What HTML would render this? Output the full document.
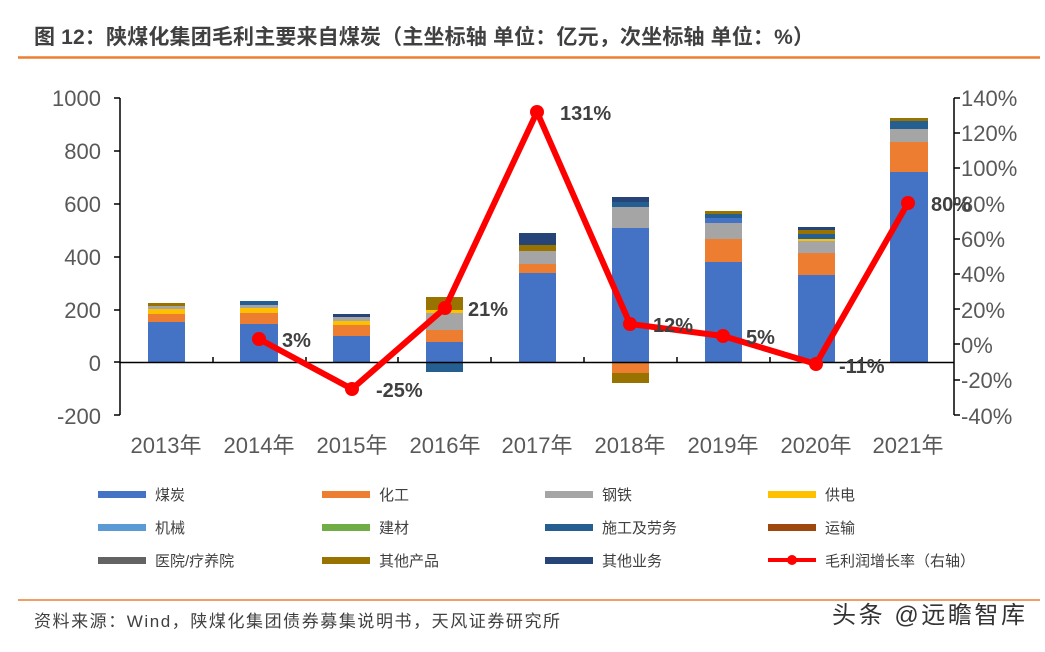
<!DOCTYPE html>
<html><head><meta charset="utf-8"><style>
body{margin:0;background:#fff;width:1045px;height:647px;overflow:hidden}
svg{font-family:"Liberation Sans","Noto Sans CJK SC",sans-serif}
</style></head><body>
<svg width="1045" height="647" viewBox="0 0 1045 647">
<text x="34" y="44" font-size="21" font-weight="bold" fill="#404040" textLength="780">图 12：陕煤化集团毛利主要来自煤炭（主坐标轴 单位：亿元，次坐标轴 单位：%）</text>
<line x1="18" y1="57.5" x2="1040" y2="57.5" stroke="#ED7D31" stroke-width="2.5"/>
<g font-size="22" fill="#595959" text-anchor="end">
<text x="101" y="106">1000</text><text x="101" y="159">800</text><text x="101" y="212">600</text><text x="101" y="265">400</text><text x="101" y="318">200</text><text x="101" y="371">0</text><text x="101" y="424">-200</text>
</g>
<g font-size="22" fill="#595959">
<text x="961" y="106">140%</text><text x="961" y="141">120%</text><text x="961" y="176">100%</text><text x="961" y="212">80%</text><text x="961" y="247">60%</text><text x="961" y="282">40%</text><text x="961" y="318">20%</text><text x="961" y="353">0%</text><text x="961" y="388">-20%</text><text x="961" y="424">-40%</text>
</g>
<g stroke="#000" stroke-width="1.5">
<line x1="120" y1="98" x2="120" y2="415"/>
<line x1="114" y1="98" x2="120" y2="98"/><line x1="114" y1="151" x2="120" y2="151"/><line x1="114" y1="204" x2="120" y2="204"/><line x1="114" y1="257" x2="120" y2="257"/><line x1="114" y1="310" x2="120" y2="310"/><line x1="114" y1="362" x2="120" y2="362"/><line x1="114" y1="415" x2="120" y2="415"/>
<line x1="954" y1="98" x2="954" y2="415"/>
<line x1="954" y1="98" x2="960" y2="98"/><line x1="954" y1="133" x2="960" y2="133"/><line x1="954" y1="168" x2="960" y2="168"/><line x1="954" y1="204" x2="960" y2="204"/><line x1="954" y1="239" x2="960" y2="239"/><line x1="954" y1="274" x2="960" y2="274"/><line x1="954" y1="309" x2="960" y2="309"/><line x1="954" y1="344" x2="960" y2="344"/><line x1="954" y1="380" x2="960" y2="380"/><line x1="954" y1="415" x2="960" y2="415"/>
</g>
<g>
<rect x="148" y="322" width="37" height="40" fill="#4472C4"/><rect x="148" y="314" width="37" height="8" fill="#ED7D31"/><rect x="148" y="309" width="37" height="5" fill="#FFC000"/><rect x="148" y="306" width="37" height="3" fill="#A5A5A5"/><rect x="148" y="303" width="37" height="3" fill="#997300"/>
<rect x="240" y="324" width="38" height="38" fill="#4472C4"/><rect x="240" y="313" width="38" height="11" fill="#ED7D31"/><rect x="240" y="308" width="38" height="5" fill="#FFC000"/><rect x="240" y="305" width="38" height="3" fill="#A5A5A5"/><rect x="240" y="301" width="38" height="4" fill="#255E91"/>
<rect x="333" y="336" width="37" height="26" fill="#4472C4"/><rect x="333" y="325" width="37" height="11" fill="#ED7D31"/><rect x="333" y="321" width="37" height="4" fill="#FFC000"/><rect x="333" y="317" width="37" height="4" fill="#A5A5A5"/><rect x="333" y="314" width="37" height="3" fill="#264478"/>
<rect x="426" y="342" width="37" height="20" fill="#4472C4"/><rect x="426" y="330" width="37" height="12" fill="#ED7D31"/><rect x="426" y="313" width="37" height="17" fill="#A5A5A5"/><rect x="426" y="310" width="37" height="3" fill="#FFC000"/><rect x="426" y="297" width="37" height="13" fill="#997300"/><rect x="426" y="362" width="37" height="10" fill="#255E91"/>
<rect x="519" y="273" width="37" height="89" fill="#4472C4"/><rect x="519" y="264" width="37" height="9" fill="#ED7D31"/><rect x="519" y="251" width="37" height="13" fill="#A5A5A5"/><rect x="519" y="245" width="37" height="6" fill="#997300"/><rect x="519" y="233" width="37" height="12" fill="#264478"/>
<rect x="612" y="228" width="37" height="134" fill="#4472C4"/><rect x="612" y="207" width="37" height="21" fill="#A5A5A5"/><rect x="612" y="202" width="37" height="5" fill="#255E91"/><rect x="612" y="197" width="37" height="5" fill="#264478"/><rect x="612" y="362" width="37" height="11" fill="#ED7D31"/><rect x="612" y="373" width="37" height="10" fill="#997300"/>
<rect x="705" y="262" width="37" height="100" fill="#4472C4"/><rect x="705" y="239" width="37" height="23" fill="#ED7D31"/><rect x="705" y="223" width="37" height="16" fill="#A5A5A5"/><rect x="705" y="218" width="37" height="5" fill="#4472C4"/><rect x="705" y="214" width="37" height="4" fill="#255E91"/><rect x="705" y="211" width="37" height="3" fill="#997300"/>
<rect x="798" y="275" width="37" height="87" fill="#4472C4"/><rect x="798" y="253" width="37" height="22" fill="#ED7D31"/><rect x="798" y="241" width="37" height="12" fill="#A5A5A5"/><rect x="798" y="239" width="37" height="2" fill="#FFC000"/><rect x="798" y="234" width="37" height="5" fill="#255E91"/><rect x="798" y="230" width="37" height="4" fill="#997300"/><rect x="798" y="227" width="37" height="3" fill="#264478"/>
<rect x="890" y="172" width="38" height="190" fill="#4472C4"/><rect x="890" y="142" width="38" height="30" fill="#ED7D31"/><rect x="890" y="129" width="38" height="13" fill="#A5A5A5"/><rect x="890" y="121" width="38" height="8" fill="#255E91"/><rect x="890" y="118" width="38" height="3" fill="#997300"/>
</g>
<line x1="120" y1="362.5" x2="954" y2="362.5" stroke="#000" stroke-width="1.5"/>
<g stroke="#000" stroke-width="1.5">
<line x1="213" y1="362" x2="213" y2="357"/><line x1="306" y1="362" x2="306" y2="357"/><line x1="398" y1="362" x2="398" y2="357"/><line x1="491" y1="362" x2="491" y2="357"/><line x1="584" y1="362" x2="584" y2="357"/><line x1="677" y1="362" x2="677" y2="357"/><line x1="770" y1="362" x2="770" y2="357"/><line x1="862" y1="362" x2="862" y2="357"/>
</g>
<polyline points="259,339 352,389 445,308 537,112 630,324 723,336 816,364 908,203" fill="none" stroke="#FF0000" stroke-width="6" stroke-linejoin="round"/>
<g fill="#FF0000"><circle cx="259" cy="339" r="7"/><circle cx="352" cy="389" r="7"/><circle cx="445" cy="308" r="7"/><circle cx="537" cy="112" r="7"/><circle cx="630" cy="324" r="7"/><circle cx="723" cy="336" r="7"/><circle cx="816" cy="364" r="7"/><circle cx="908" cy="203" r="7"/></g>
<g font-size="20" font-weight="bold" fill="#404040">
<text x="282" y="347">3%</text><text x="376" y="397">-25%</text><text x="468" y="316">21%</text><text x="560" y="120">131%</text><text x="653" y="332">12%</text><text x="746" y="344">5%</text><text x="839" y="373">-11%</text><text x="931" y="211">80%</text>
</g>
<g font-size="22" fill="#595959" text-anchor="middle">
<text x="166" y="453">2013年</text><text x="259" y="453">2014年</text><text x="352" y="453">2015年</text><text x="445" y="453">2016年</text><text x="537" y="453">2017年</text><text x="630" y="453">2018年</text><text x="723" y="453">2019年</text><text x="816" y="453">2020年</text><text x="908" y="453">2021年</text>
</g>
<g font-size="15" fill="#404040">
<rect x="98" y="491" width="48" height="7" fill="#4472C4"/><text x="155" y="500">煤炭</text>
<rect x="322" y="491" width="48" height="7" fill="#ED7D31"/><text x="379" y="500">化工</text>
<rect x="545" y="491" width="48" height="7" fill="#A5A5A5"/><text x="602" y="500">钢铁</text>
<rect x="768" y="491" width="48" height="7" fill="#FFC000"/><text x="825" y="500">供电</text>
<rect x="98" y="524" width="48" height="7" fill="#5B9BD5"/><text x="155" y="533">机械</text>
<rect x="322" y="524" width="48" height="7" fill="#70AD47"/><text x="379" y="533">建材</text>
<rect x="545" y="524" width="48" height="7" fill="#255E91"/><text x="602" y="533">施工及劳务</text>
<rect x="768" y="524" width="48" height="7" fill="#9E480E"/><text x="825" y="533">运输</text>
<rect x="98" y="557" width="48" height="7" fill="#636363"/><text x="155" y="566">医院/疗养院</text>
<rect x="322" y="557" width="48" height="7" fill="#997300"/><text x="379" y="566">其他产品</text>
<rect x="545" y="557" width="48" height="7" fill="#264478"/><text x="602" y="566">其他业务</text>
<line x1="768" y1="560" x2="816" y2="560" stroke="#FF0000" stroke-width="4"/><circle cx="792" cy="560" r="5" fill="#FF0000"/><text x="825" y="566">毛利润增长率（右轴）</text>
</g>
<line x1="18" y1="600" x2="1040" y2="600" stroke="#ED7D31" stroke-width="1.5"/>
<text x="34" y="627" font-size="17" fill="#404040" textLength="526">资料来源：Wind，陕煤化集团债券募集说明书，天风证券研究所</text>
<text x="832" y="623" font-size="24" fill="#333" textLength="193">头条 @远瞻智库</text>
</svg>
</body></html>
